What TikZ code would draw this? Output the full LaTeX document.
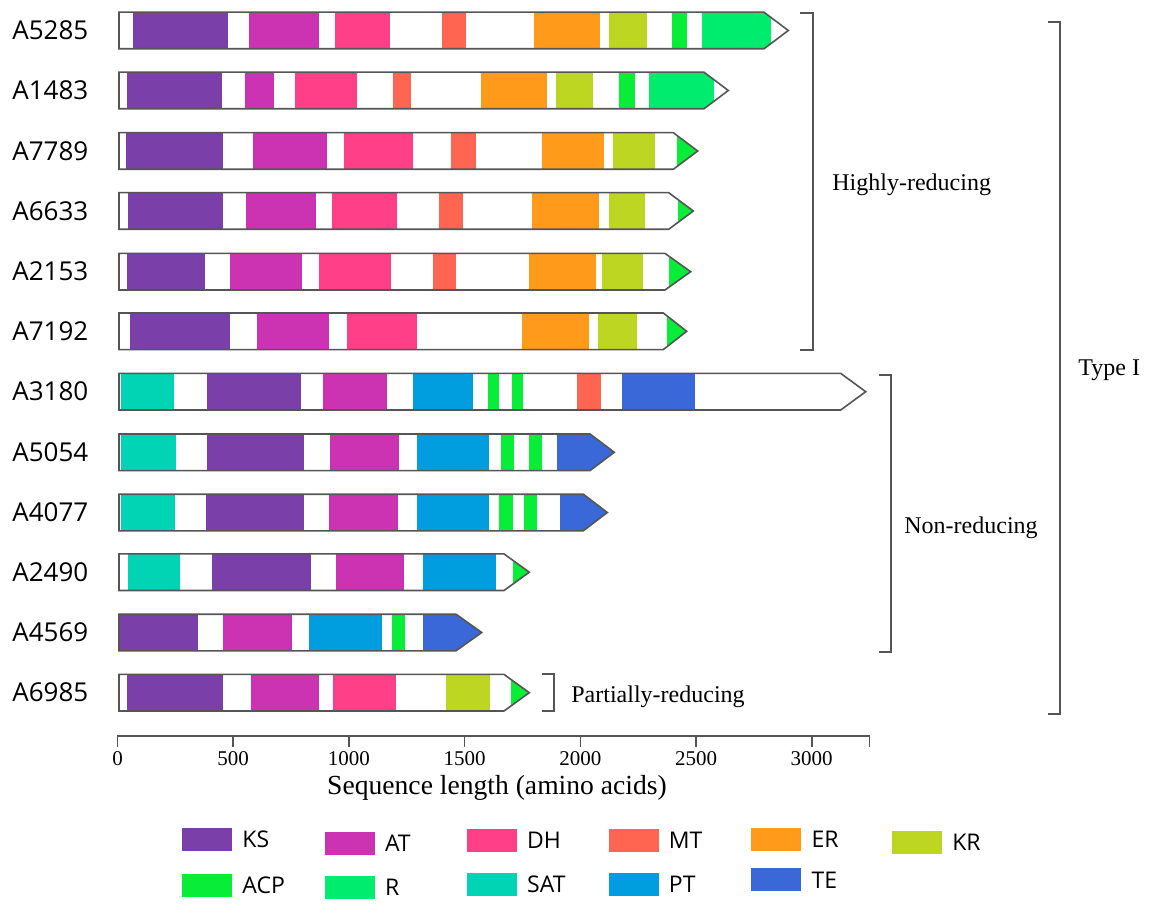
\documentclass[tikz,border=0pt]{standalone}
\usepackage{fontspec}
\setmainfont{Liberation Serif}
\newfontfamily\labfont{Open Sans}
\definecolor{cKS}{RGB}{122,63,169}
\definecolor{cAT}{RGB}{204,51,178}
\definecolor{cDH}{RGB}{255,64,137}
\definecolor{cMT}{RGB}{255,101,80}
\definecolor{cER}{RGB}{255,154,26}
\definecolor{cKR}{RGB}{188,214,34}
\definecolor{cACP}{RGB}{8,238,56}
\definecolor{cR}{RGB}{0,236,110}
\definecolor{cSAT}{RGB}{0,212,180}
\definecolor{cPT}{RGB}{0,158,222}
\definecolor{cTE}{RGB}{58,104,216}
\definecolor{lineg}{RGB}{85,85,85}
\newcommand{\pksgene}[4]{%
  \begin{scope}
    \clip (119,#1-18.3) -- (#2,#1-18.3) -- (#3,#1) -- (#2,#1+18.3) -- (119,#1+18.3) -- cycle;
    \fill[white] (119,#1-18.3) rectangle (#3,#1+18.3);
    \foreach \a/\b/\c in {#4}{\fill[\c] (\a,#1-18.3) rectangle (\b,#1+18.3);}
  \end{scope}
  \draw[geneline] (119,#1-18.3) -- (#2,#1-18.3) -- (#3,#1) -- (#2,#1+18.3) -- (119,#1+18.3) -- cycle;
}
\tikzset{
  geneline/.style={draw=lineg, line width=0.8pt, line join=miter},
  genelab/.style={anchor=west, inner sep=0pt, font=\labfont\fontsize{13}{15}\selectfont},
  brack/.style={draw=lineg, line width=0.9pt},
  grouplab/.style={anchor=west, inner sep=0pt, font=\fontsize{12}{14}\selectfont},
  ticklab/.style={anchor=center, inner sep=0pt, font=\fontsize{10.5}{12}\selectfont},
  legtext/.style={anchor=west, inner sep=0pt, font=\labfont\fontsize{11.5}{13}\selectfont},
}
\begin{document}
\begin{tikzpicture}[x=0.5pt, y=-0.5pt]
\useasboundingbox (0,0) rectangle (1153,904);
\fill[white] (0,0) rectangle (1153,904);

% gene rows
\pksgene{30.5}{764}{788.3}{132.7/227.7/cKS, 249.3/319.3/cAT, 335/390/cDH, 441.7/465.7/cMT, 534.3/600/cER, 609.3/646.7/cKR, 671.7/687.3/cACP, 702/770.7/cR}
\pksgene{90.5}{704}{728.3}{127.3/222.3/cKS, 245/274/cAT, 295/356.7/cDH, 392.7/410.7/cMT, 480.7/546.7/cER, 556/593.3/cKR, 618.7/635/cACP, 649/714/cR}
\pksgene{151}{673.3}{697.7}{126/222.7/cKS, 252.7/327.3/cAT, 344/413.3/cDH, 451/475.7/cMT, 542.3/604/cER, 613.3/655/cKR, 676.7/700/cACP}
\pksgene{211}{668.7}{693.3}{127.7/222.7/cKS, 245.7/315.7/cAT, 332.3/397.3/cDH, 439/462.7/cMT, 531.7/599/cER, 608.7/645/cKR, 678.3/700/cACP}
\pksgene{271.7}{665}{690.7}{126.7/204.7/cKS, 230/301.7/cAT, 319/391/cDH, 433.3/456/cMT, 529/595.7/cER, 601.7/643.3/cKR, 669.3/700/cACP}
\pksgene{331.3}{663.3}{686.7}{130/230/cKS, 256.7/329.3/cAT, 346.7/417.3/cDH, 522.3/589.3/cER, 598.3/636.7/cKR, 666.7/700/cACP}
\pksgene{391.7}{840.7}{865.7}{120.7/174/cSAT, 206.7/300.7/cKS, 323.3/386.7/cAT, 412.7/472.7/cPT, 487.7/499/cACP, 511.7/523.3/cACP, 577.3/600.7/cMT, 622/695/cTE}
\pksgene{452.3}{590}{614.3}{120.7/175.7/cSAT, 206.7/304.3/cKS, 330/399/cAT, 417.3/489.3/cPT, 501/514/cACP, 528.7/541.7/cACP, 556.7/620/cTE}
\pksgene{512.5}{583.3}{607.3}{120.7/174.7/cSAT, 205.7/304/cKS, 329.3/398.3/cAT, 417.3/489.3/cPT, 499.3/512.7/cACP, 524/537.3/cACP, 560/620/cTE}
\pksgene{572.2}{504}{529.3}{128.3/180/cSAT, 212.3/311/cKS, 335.7/404/cAT, 422.7/495.7/cPT, 513.3/540/cACP}
\pksgene{632.5}{456}{481.7}{120/198.3/cKS, 222.7/291.7/cAT, 309.3/382/cPT, 392/405.3/cACP, 423.3/490/cTE}
\pksgene{692.7}{504}{529.3}{126.7/223.3/cKS, 250.7/319/cAT, 333.3/396/cDH, 446/490/cKR, 510.7/540/cACP}

% gene labels
\node[genelab] (g1) at (12,30.5) {A5285};
\node[genelab] (g2) at (12,90.5) {A1483};
\node[genelab] (g3) at (12,151) {A7789};
\node[genelab] (g4) at (12,211) {A6633};
\node[genelab] (g5) at (12,271.7) {A2153};
\node[genelab] (g6) at (12,331.3) {A7192};
\node[genelab] (g7) at (12,391.7) {A3180};
\node[genelab] (g8) at (12,452.3) {A5054};
\node[genelab] (g9) at (12,512.5) {A4077};
\node[genelab] (g10) at (12,572.2) {A2490};
\node[genelab] (g11) at (12,632.5) {A4569};
\node[genelab] (g12) at (12,692.7) {A6985};

% brackets
\draw[brack] (800,12.9) -- (813,12.9) -- (813,350) -- (800,350);
\draw[brack] (879,375) -- (891,375) -- (891,652) -- (879,652);
\draw[brack] (1048,22) -- (1060,22) -- (1060,714) -- (1048,714);
\draw[brack] (542,674.3) -- (554,674.3) -- (554,711) -- (542,711);
\node[grouplab] (hr) at (832,185) {Highly-reducing};
\node[grouplab] (nr) at (904,528) {Non-reducing};
\node[grouplab] (t1) at (1078,370) {Type I};
\node[grouplab] (pr) at (571,697) {Partially-reducing};

% axis
\draw[draw=lineg, line width=0.8pt] (117.5,747) -- (117.5,736) -- (869.5,736) -- (869.5,747);
\foreach \k in {1,...,6}{\draw[draw=lineg, line width=0.8pt] (117.5+\k*115.7,736) -- (117.5+\k*115.7,747);}
\foreach \k/\v in {0/0,1/500,2/1000,3/1500,4/2000,5/2500,6/3000}{
  \node[ticklab] (tk\k) at (117.5+\k*115.7,759) {\v};
}
\node[anchor=center, inner sep=0pt, font=\fontsize{13.8}{16}\selectfont] (xt) at (497,788) {Sequence length (amino acids)};

% legend
\foreach \nm/\xs/\ys/\col in {KS/182/828/cKS, AT/324.6/831.7/cAT, DH/466.8/829/cDH, MT/608.5/829/cMT, ER/751.3/827.7/cER, KR/891.9/830.7/cKR, ACP/182/874/cACP, R/324.6/875.7/cR, SAT/466.8/872.7/cSAT, PT/608.5/872.7/cPT, TE/751.3/868.3/cTE}{
  \fill[\col] (\xs,\ys) rectangle ++(50,23);
  \node[legtext] (leg\nm) at (\xs+60,\ys+11.5) {\nm};
}
\end{tikzpicture}
\end{document}
